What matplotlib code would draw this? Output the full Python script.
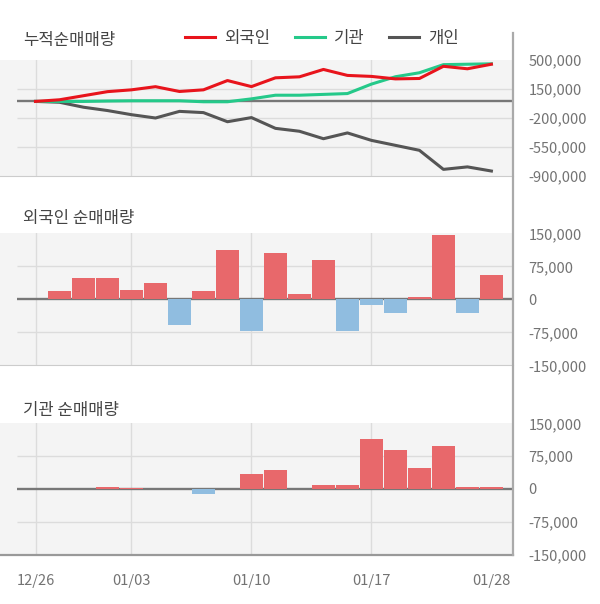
import numpy as np
import matplotlib.pyplot as plt
from matplotlib.lines import Line2D

plt.rcParams['font.family'] = ['Noto Sans CJK KR', 'DejaVu Sans']

# dates (trading days)
dates = ['12/26', '12/27', '12/28', '01/02', '01/03', '01/04', '01/07', '01/08',
         '01/09', '01/10', '01/11', '01/14', '01/15', '01/16', '01/17', '01/18',
         '01/21', '01/22', '01/23', '01/28']
tick_idx = [0, 4, 9, 14, 19]

# daily net buying (shares)
foreign = [0, 20000, 49000, 49000, 22000, 38000, -58000, 20000, 112000, -73000,
           106000, 12000, 89000, -72000, -12000, -30000, 5000, 147000, -30000, 55000]
inst = [0, 0, 0, 5000, 3000, 0, 0, -12000, 0, 35000,
        44000, 0, 10000, 10000, 114000, 89000, 48000, 98000, 5000, 5000]
# cumulative for individuals
indiv_cum = [0, -10000, -70000, -110000, -160000, -200000, -120000, -135000,
             -245000, -195000, -325000, -360000, -450000, -380000, -470000,
             -530000, -590000, -820000, -790000, -840000]

foreign_cum = np.cumsum(foreign)
inst_cum = np.cumsum(inst)

RED = '#e8141c'
GREEN = '#25c98a'
DARK = '#555555'
BAR_UP = '#e8686b'
BAR_DN = '#90bde0'
BG = '#f4f4f4'
GRID = '#dcdcdc'
TXT = '#444444'
TICK = '#737373'

W, H = 600, 604
fig = plt.figure(figsize=(6, 6.04), dpi=100)

x = np.arange(len(dates))
xmin, xmax = -1.48, 19.9
gx0 = -0.77  # where horizontal lines begin


def fy(py):
    return 1 - py / H


def setup(ax, yticks, labels, ylim):
    ax.set_facecolor(BG)
    ax.set_xlim(xmin, xmax)
    ax.set_ylim(*ylim)
    for s in ['left', 'top', 'right']:
        ax.spines[s].set_visible(False)
    ax.spines['bottom'].set_color('#cccccc')
    ax.yaxis.tick_right()
    ax.set_yticks(yticks)
    ax.set_yticklabels(labels)
    ax.tick_params(axis='y', length=0, pad=11, labelsize=10.5, labelcolor=TICK)
    ax.set_xticks([])
    for yt in yticks[1:-1]:
        if yt != 0:
            ax.hlines(yt, gx0, xmax, color=GRID, lw=1, zorder=1)
    for i in tick_idx[:-1]:
        ax.axvline(i, color=GRID, lw=1, zorder=1)
    ax.hlines(0, gx0, xmax, color='#777777', lw=1.7, zorder=2)


# cumulative panel
ax1 = fig.add_axes([0, fy(176), 513 / W, (176 - 60) / H])
setup(ax1, [500000, 150000, -200000, -550000, -900000],
      ['500,000', '150,000', '-200,000', '-550,000', '-900,000'],
      (-900000, 500000))
ax1.plot(x, indiv_cum, color=DARK, lw=2.2, zorder=5, label='개인')
ax1.plot(x, inst_cum, color=GREEN, lw=2.2, zorder=5, label='기관')
ax1.plot(x, foreign_cum, color=RED, lw=2.2, zorder=6, label='외국인')
h, l = ax1.get_legend_handles_labels()
fig.legend(h[::-1], l[::-1], loc='center left', bbox_to_anchor=(177 / W, fy(38)),
           ncol=3, frameon=False, borderpad=0, fontsize=12, handlelength=1.8,
           handletextpad=0.55, columnspacing=1.45, labelcolor=TXT)

# foreign daily
ax2 = fig.add_axes([0, fy(365.3), 513 / W, (365.3 - 233.3) / H])
setup(ax2, [150000, 75000, 0, -75000, -150000],
      ['150,000', '75,000', '0', '-75,000', '-150,000'], (-150000, 150000))
ax2.bar(x, foreign, width=0.95, color=[BAR_UP if v >= 0 else BAR_DN for v in foreign], zorder=3)

# institution daily
ax3 = fig.add_axes([0, fy(554.5), 513 / W, (554.5 - 423.3) / H])
setup(ax3, [150000, 75000, 0, -75000, -150000],
      ['150,000', '75,000', '0', '-75,000', '-150,000'], (-150000, 150000))
ax3.bar(x, inst, width=0.95, color=[BAR_UP if v >= 0 else BAR_DN for v in inst], zorder=3)
ax3.spines['bottom'].set_color('#999999')
ax3.spines['bottom'].set_linewidth(1.6)
ax3.set_xticks(tick_idx)
ax3.set_xticklabels([dates[i] for i in tick_idx])
ax3.tick_params(axis='x', length=0, pad=14, labelsize=10.5, labelcolor=TICK)

# panel titles
fig.text(23 / W, fy(40), '누적순매매량', fontsize=12, color=TXT, va='center')
fig.text(23 / W, fy(218), '외국인 순매매량', fontsize=12, color=TXT, va='center')
fig.text(23 / W, fy(410), '기관 순매매량', fontsize=12, color=TXT, va='center')

# right border line
fig.add_artist(Line2D([513 / W, 513 / W], [fy(33), fy(555)], color='#aaaaaa', lw=1.6))

fig.savefig('out.png', dpi=100)
